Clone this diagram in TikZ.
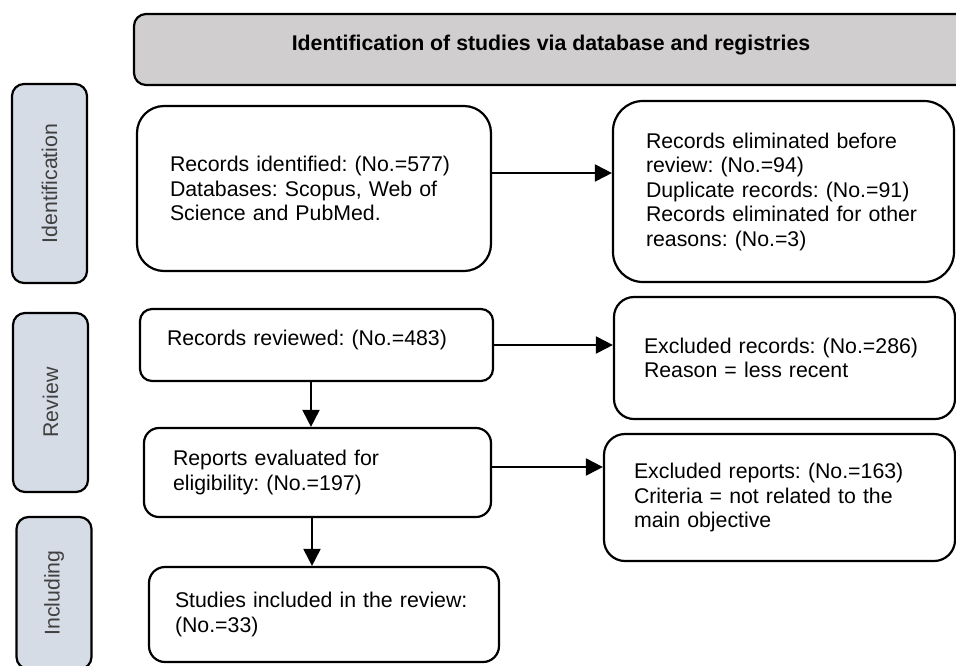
\documentclass[tikz,border=0pt]{standalone}
\usepackage{fontspec}
\setmainfont{Liberation Sans}
\usepackage{xcolor}
\usepackage{tikz}
\usetikzlibrary{arrows.meta, positioning, calc}

\definecolor{headgray}{HTML}{D0CECE}
\definecolor{phaseblue}{HTML}{D6DCE5}

\begin{document}
\frenchspacing\hyphenpenalty=10000
\begin{tikzpicture}[
    x=1pt, y=-1pt,
    every node/.style={font=\fontsize{21.3}{24.5}\selectfont},
    box/.style={draw, line width=2.2pt, rounded corners=#1, align=left, inner ysep=0pt},
    phase/.style={draw, line width=2.2pt, rounded corners=12pt, fill=phaseblue, rotate=90, minimum height=75pt, text=black!75},
    flow/.style={-{Triangle[length=17pt,width=17pt]}, line width=2pt}
]
\useasboundingbox (0,0) rectangle (956,665);

% header and phase labels
\node[box=12pt, fill=headgray, minimum width=834pt, minimum height=71pt, align=center,
      font=\bfseries\fontsize{21.3}{24.5}\selectfont, text height=15.5pt, text depth=14.5pt] (head) at (551,49.5)
      {Identification of studies via database and registries};
\node[phase, minimum width=199pt] (pIdent) at (49.5,183.5) {Identification};
\node[phase, minimum width=179pt] (pReview) at (50.5,402.5) {Review};
\node[phase, minimum width=152pt] (pInclude) at (54,593) {Including};

% main column
\node[box=27pt, minimum height=165pt, text width=288pt, inner xsep=33pt] (ident) at (314,188.5)
      {Records identified: (No.=577)\\ Databases: Scopus, Web of\\ Science and PubMed.};
\node[box=12pt, minimum height=72pt, text width=299pt, inner xsep=27pt, text height=15.5pt, text depth=14.5pt] (reviewed) at (316.5,345)
      {Records reviewed: (No.=483)};
\node[box=15pt, minimum height=89pt, text width=289pt, inner xsep=29pt] (reports) at (317.5,472.5)
      {Reports evaluated for\\ eligibility: (No.=197)};
\node[box=16pt, minimum height=95pt, text width=298pt, inner xsep=26pt] (studies) at (324,614.5)
      {Studies included in the review:\\ (No.=33)};

% excluded column
\node[box=30pt, minimum height=181pt, text width=275pt, inner xsep=33pt] (elim) at (783.5,191.5)
      {Records eliminated before\\ review: (No.=94)\\ Duplicate records: (No.=91)\\ Records eliminated for other\\ reasons: (No.=3)};
\node[box=20pt, minimum height=122pt, text width=281pt, inner xsep=30pt] (excrec) at (784.5,358)
      {Excluded records: (No.=286)\\ Reason = less recent};
\node[box=21pt, minimum height=127pt, text width=291pt, inner xsep=30pt] (excrep) at (779.5,497.5)
      {Excluded reports: (No.=163)\\ Criteria = not related to the\\ main objective};

% connectors
\coordinate (a1) at ([yshift=15.5pt]ident.east);
\coordinate (a3) at ([yshift=5.5pt]reports.east);
\coordinate (d1) at ([xshift=-5.5pt]reviewed.south);
\coordinate (d2) at ([xshift=-5.5pt]reports.south);
\draw[flow] (a1) -- (a1 -| elim.west);
\draw[flow] (reviewed.east) -- (reviewed.east -| excrec.west);
\draw[flow] (a3) -- (a3 -| excrep.west);
\draw[flow] (d1) -- (d1 |- reports.north);
\draw[flow] (d2) -- (d2 |- studies.north);

\end{tikzpicture}
\end{document}
